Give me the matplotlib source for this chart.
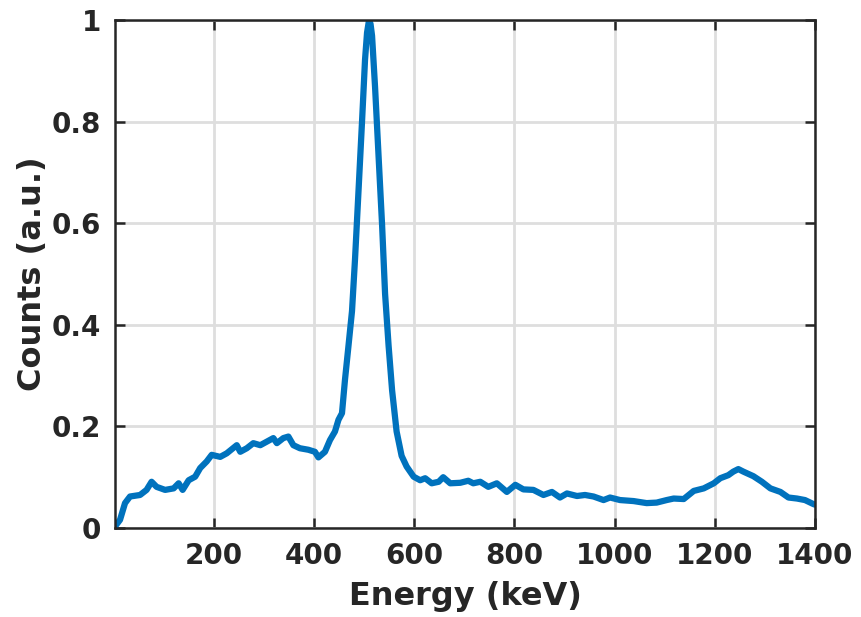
import matplotlib
matplotlib.use("Agg")
import matplotlib.pyplot as plt

energy = [3, 13, 23, 33, 53, 66, 76, 86, 103, 120, 130, 138, 150, 163, 173, 186, 196,
          213, 226, 246, 253, 266, 279, 293, 306, 319, 326, 339, 349, 359, 372, 389,
          402, 409, 422, 432, 442, 449, 456, 462, 469, 476, 482, 489, 496, 502, 506,
          510, 513, 516, 522, 529, 536, 542, 549, 556, 565, 575, 585, 599, 612, 622,
          635, 649, 658, 672, 692, 708, 718, 732, 748, 765, 785, 802, 818, 838, 858,
          875, 891, 905, 925, 941, 958, 978, 991, 1011, 1038, 1064, 1084, 1104, 1118,
          1138, 1158, 1178, 1198, 1211, 1227, 1237, 1247, 1257, 1277, 1294, 1311,
          1331, 1347, 1364, 1380, 1397, 1400]
counts = [0.003, 0.016, 0.049, 0.062, 0.065, 0.075, 0.091, 0.081, 0.075, 0.078, 0.088,
          0.075, 0.094, 0.101, 0.118, 0.131, 0.144, 0.140, 0.147, 0.163, 0.150, 0.157,
          0.167, 0.163, 0.170, 0.177, 0.167, 0.177, 0.180, 0.163, 0.157, 0.154, 0.150,
          0.139, 0.150, 0.173, 0.190, 0.213, 0.226, 0.292, 0.359, 0.427, 0.529, 0.664,
          0.800, 0.922, 0.975, 1.000, 0.992, 0.969, 0.868, 0.732, 0.597, 0.461, 0.359,
          0.271, 0.190, 0.142, 0.121, 0.101, 0.094, 0.098, 0.088, 0.091, 0.100, 0.088,
          0.089, 0.093, 0.088, 0.091, 0.081, 0.088, 0.071, 0.085, 0.076, 0.075, 0.065,
          0.071, 0.060, 0.068, 0.063, 0.065, 0.062, 0.055, 0.060, 0.055, 0.053, 0.049,
          0.050, 0.055, 0.058, 0.057, 0.073, 0.078, 0.088, 0.098, 0.104, 0.111, 0.116,
          0.111, 0.102, 0.091, 0.078, 0.071, 0.060, 0.058, 0.055, 0.047, 0.046]

x_ticks = [200, 400, 600, 800, 1000, 1200, 1400]
y_ticks = [0, 0.2, 0.4, 0.6, 0.8, 1]
y_tick_labels = ["0", "0.2", "0.4", "0.6", "0.8", "1"]

txt = "#262626"
plt.rcParams['font.family'] = ['DejaVu Sans']
plt.rcParams['font.weight'] = 'bold'

fig = plt.figure(figsize=(8.61, 6.17), dpi=100)
ax = fig.add_axes([115/861, 89/617, 700/861, 508/617])
ax.plot(energy, counts, color="#0072BD", lw=4.5, solid_joinstyle='round',
        solid_capstyle='round', zorder=3)
ax.set_xlim(3, 1400)
ax.set_ylim(0, 1)
ax.set_xticks(x_ticks)
ax.set_xticklabels([str(t) for t in x_ticks])
ax.set_yticks(y_ticks)
ax.set_yticklabels(y_tick_labels)
ax.grid(True, color="#dedede", lw=2.0)
ax.set_axisbelow(True)
for s in ax.spines.values():
    s.set_linewidth(1.8)
    s.set_color(txt)
    s.set_zorder(4)
ax.tick_params(direction='in', length=7, width=1.8, colors=txt, top=True, right=True,
               labelsize=20, pad=10)
for lab in ax.get_xticklabels() + ax.get_yticklabels():
    lab.set_fontweight('bold')
ax.set_xlabel("Energy (keV)", fontsize=23, fontweight='bold', color=txt, labelpad=8)
ax.set_ylabel("Counts (a.u.)", fontsize=23, fontweight='bold', color=txt, labelpad=3)
fig.savefig("out.png", dpi=100, facecolor="white")
